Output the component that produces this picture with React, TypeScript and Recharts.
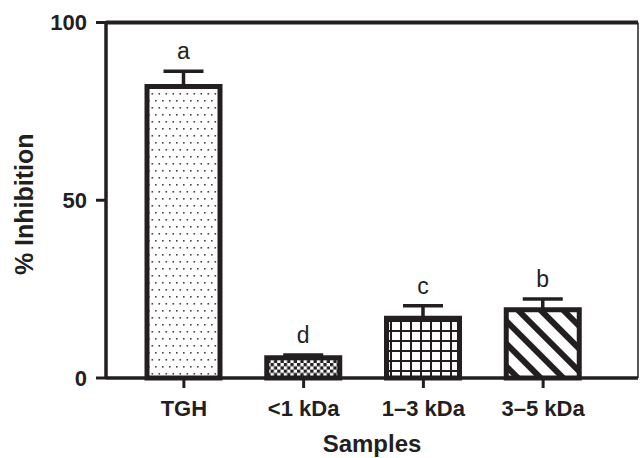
import { Bar, BarChart, Cell, ErrorBar, LabelList, ReferenceLine, XAxis, YAxis } from "recharts";

const categories = ["TGH", "<1 kDa", "1–3 kDa", "3–5 kDa"];
const inhibition = [82, 5.7, 16.8, 19.2];
const errors = [4.3, 0.8, 3.5, 3.0];
const letters = ["a", "d", "c", "b"];
const yTicks = [0, 50, 100];

const ink = "#231f20";
const font = '"Liberation Sans", Arial, sans-serif';
const patterns = ["dots", "checks", "grid", "stripes"];

const chartData = categories.map((name, i) => ({
    name,
    value: inhibition[i],
    err: [0, errors[i]],
}));

const Letter = (props: any) => {
    const vb = props.viewBox ?? props;
    const x = vb.x ?? props.x;
    const y = vb.y ?? props.y;
    const width = vb.width ?? props.width;
    const height = vb.height ?? props.height;
    const i = props.index;
    const errPx = (errors[i] * Math.abs(height)) / inhibition[i];
    return (
        <text x={x + width / 2} y={y - errPx - 12} textAnchor="middle" fontSize={23} fontFamily={font} fill={ink}>
            {letters[i]}
        </text>
    );
};

const YLabel = (props: any) => {
    const vb = props.viewBox;
    const cx = 33;
    const cy = vb.y + vb.height / 2 + 4;
    return (
        <text x={cx} y={cy} transform={`rotate(-90, ${cx}, ${cy})`} textAnchor="middle" fontSize={25} fontWeight="bold" fontFamily={font} fill={ink}>
            % Inhibition
        </text>
    );
};

const XLabel = (props: any) => {
    const vb = props.viewBox;
    return (
        <text x={vb.x + vb.width / 2} y={452} textAnchor="middle" fontSize={24} fontWeight="bold" fontFamily={font} fill={ink}>
            Samples
        </text>
    );
};

const tickStyle = { fontSize: 22, fontWeight: "bold", fontFamily: font, fill: ink };

export default function App() {
    return (
        <div style={{ position: "absolute", left: 0, top: 0, width: 640, height: 458, background: "#fff" }}>
            <svg width={0} height={0} style={{ position: "absolute" }}>
                <defs>
                    <pattern id="dots" width={7} height={14} patternUnits="userSpaceOnUse">
                        <rect width={7} height={14} fill="#fff" />
                        <rect x={1} y={2} width={1.6} height={1.6} fill="#444" />
                        <rect x={4.5} y={9} width={1.6} height={1.6} fill="#444" />
                    </pattern>
                    <pattern id="checks" width={6.6} height={6.6} patternUnits="userSpaceOnUse">
                        <rect width={6.6} height={6.6} fill="#fff" />
                        <rect width={3.3} height={3.3} fill={ink} />
                        <rect x={3.3} y={3.3} width={3.3} height={3.3} fill={ink} />
                    </pattern>
                    <pattern id="grid" width={10} height={10} patternUnits="userSpaceOnUse">
                        <rect width={10} height={10} fill="#fff" />
                        <rect width={2} height={10} fill={ink} />
                        <rect width={10} height={2} fill={ink} />
                    </pattern>
                    <pattern id="stripes" width={16} height={16} patternUnits="userSpaceOnUse" patternTransform="rotate(-45)">
                        <rect width={16} height={16} fill="#fff" />
                        <rect width={6} height={16} fill={ink} />
                    </pattern>
                </defs>
            </svg>
            <BarChart width={640} height={458} data={chartData} margin={{ top: 22.5, right: 0, bottom: 50, left: 0 }}>
                <XAxis
                    dataKey="name"
                    height={30}
                    padding={{ left: 18, right: 35 }}
                    axisLine={{ stroke: ink, strokeWidth: 3.5 }}
                    tickLine={{ stroke: ink, strokeWidth: 3 }}
                    tickSize={10}
                    tickMargin={12}
                    tick={tickStyle}
                    interval={0}
                    label={<XLabel />}
                />
                <YAxis
                    width={106}
                    domain={[0, 100]}
                    ticks={yTicks}
                    axisLine={{ stroke: ink, strokeWidth: 3.5 }}
                    tickLine={{ stroke: ink, strokeWidth: 3 }}
                    tickSize={10}
                    tickMargin={9}
                    tick={tickStyle}
                    label={<YLabel />}
                />
                <YAxis
                    yAxisId="r"
                    orientation="right"
                    width={2}
                    domain={[0, 100]}
                    tick={false}
                    tickLine={false}
                    axisLine={{ stroke: ink, strokeWidth: 1.5 }}
                />
                <ReferenceLine y={100} stroke={ink} strokeWidth={4} />
                <Bar dataKey="value" barSize={73} stroke={ink} strokeWidth={5} isAnimationActive={false}>
                    {chartData.map((d, i) => (
                        <Cell key={d.name} fill={`url(#${patterns[i]})`} />
                    ))}
                    <ErrorBar dataKey="err" direction="y" width={20} stroke={ink} strokeWidth={3.5} />
                    <LabelList dataKey="value" content={<Letter />} />
                </Bar>
            </BarChart>
        </div>
    );
}
